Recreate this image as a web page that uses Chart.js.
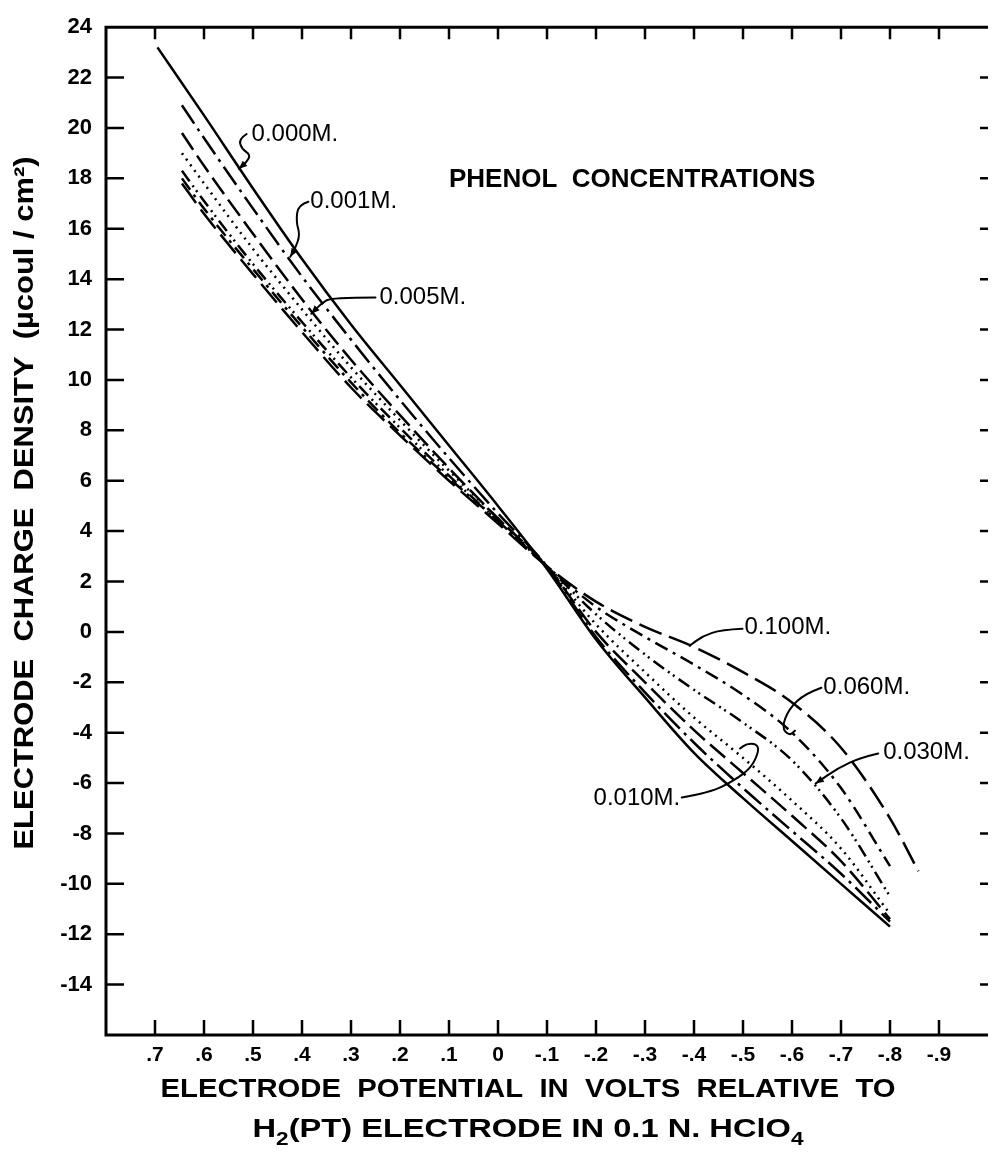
<!DOCTYPE html>
<html>
<head>
<meta charset="utf-8">
<script src="https://cdn.jsdelivr.net/npm/chart.js@4.4.1/dist/chart.umd.min.js"></script>
<style>
html, body { margin: 0; padding: 0; background: #fff; }
#graph { display: block; }
</style>
</head>
<body>
<canvas id="graph" width="996" height="1168"></canvas>
<script>
var potentials = [0.645, 0.6, 0.5, 0.4, 0.3, 0.2, 0.1, 0, -0.1, -0.2, -0.3, -0.4, -0.5, -0.6, -0.7, -0.8];
var potentials_000 = [0.695, 0.6, 0.5, 0.4, 0.3, 0.2, 0.1, 0, -0.1, -0.2, -0.3, -0.4, -0.5, -0.6, -0.7, -0.8];
var potentials_100 = [0.645, 0.6, 0.5, 0.4, 0.3, 0.2, 0.1, 0, -0.1, -0.2, -0.3, -0.4, -0.5, -0.6, -0.7, -0.8, -0.858];

// charge density (ucoul/cm2) per phenol concentration
var charge_000 = [23.2, 20.5, 17.6, 14.8, 12.2, 9.8, 7.4, 5.0, 2.5, -0.3, -2.6, -4.8, -6.6, -8.3, -10.0, -11.7];
var charge_001 = [20.9, 19.6, 16.8, 14.1, 11.6, 9.2, 6.9, 4.7, 2.6, -0.2, -2.4, -4.4, -6.2, -7.9, -9.6, -11.5];
var charge_005 = [19.8, 18.5, 15.8, 13.2, 10.8, 8.6, 6.5, 4.5, 2.6, 0.0, -2.0, -3.9, -5.6, -7.3, -9.1, -11.4];
var charge_010 = [19.0, 17.8, 15.2, 12.8, 10.5, 8.4, 6.4, 4.5, 2.6, 0.3, -1.6, -3.4, -5.0, -6.7, -8.6, -11.2];
var charge_030 = [18.3, 17.1, 14.6, 12.3, 10.1, 8.1, 6.2, 4.4, 2.6, 0.7, -0.9, -2.3, -3.6, -5.1, -7.4, -10.5];
var charge_060 = [18.0, 16.8, 14.4, 12.1, 9.9, 7.9, 6.1, 4.4, 2.6, 1.0, -0.2, -1.3, -2.5, -4.0, -6.2, -9.3];
var charge_100 = [17.8, 16.6, 14.2, 11.9, 9.7, 7.8, 6.0, 4.3, 2.6, 1.2, 0.2, -0.6, -1.6, -2.8, -4.6, -7.4, -9.5];

var concentrations = ['0.000M.', '0.001M.', '0.005M.', '0.010M.', '0.030M.', '0.060M.', '0.100M.'];

function pairs(xs, ys) {
    return xs.map(function (x, i) { return {x: x, y: ys[i]}; });
}

var series = [
    {data: pairs(potentials_000, charge_000), dash: []},
    {data: pairs(potentials, charge_001), dash: [22, 6, 3, 6]},
    {data: pairs(potentials, charge_005), dash: [20, 7]},
    {data: pairs(potentials, charge_010), dash: [2, 5]},
    {data: pairs(potentials, charge_030), dash: [13, 5, 2, 4, 2, 5]},
    {data: pairs(potentials, charge_060), dash: [14, 6, 3, 6]},
    {data: pairs(potentials_100, charge_100), dash: [24, 8]}
];

// label anchors and leader lines, in data units (potential, charge)
var label_spots = [
    {v: 0.503, q: 19.76, leader: [[0.513, 19.76], [0.529, 19.56], [0.523, 19.17], [0.505, 18.93], [0.513, 18.65], [0.529, 18.38]], arrow: true},
    {v: 0.383, q: 17.07, leader: [[0.387, 17.07], [0.408, 16.95], [0.412, 16.28], [0.404, 15.76], [0.414, 15.21], [0.424, 14.89]], arrow: true},
    {v: 0.242, q: 13.27, leader: [[0.250, 13.27], [0.341, 13.27], [0.361, 13.03], [0.381, 12.63]], arrow: true},
    {v: -0.195, q: -6.61, leader: [[-0.375, -6.57], [-0.432, -6.38], [-0.482, -5.90], [-0.517, -5.39], [-0.533, -4.71], [-0.527, -4.44], [-0.507, -4.44], [-0.494, -4.63]], arrow: false},
    {v: -0.786, q: -4.79, leader: [[-0.776, -4.83], [-0.741, -4.99], [-0.695, -5.39], [-0.648, -6.02]], arrow: true},
    {v: -0.664, q: -2.22, leader: [[-0.660, -2.22], [-0.626, -2.46], [-0.594, -3.05], [-0.579, -3.80], [-0.594, -4.12], [-0.606, -3.92]], arrow: false},
    {v: -0.503, q: 0.16, leader: [[-0.499, 0.12], [-0.456, 0.08], [-0.418, -0.16], [-0.391, -0.55]], arrow: false}
];

var FONT = '"Liberation Sans", Arial, sans-serif';

function fit_text(ctx, text, x, y, width, font, rot) {
    ctx.save();
    ctx.font = font;
    ctx.translate(x, y);
    if (rot) ctx.rotate(rot);
    var w = ctx.measureText(text).width;
    ctx.scale(width / w, 1);
    ctx.textAlign = 'center';
    ctx.textBaseline = 'middle';
    ctx.fillText(text, 0, 0);
    ctx.restore();
}

var decorations = {
    id: 'decorations',
    afterDraw: function (chart) {
        var ctx = chart.ctx;
        var a = chart.chartArea;
        var sx = chart.scales.x, sy = chart.scales.y;
        ctx.save();
        ctx.strokeStyle = '#000';
        ctx.fillStyle = '#000';

        // frame (right edge falls off the page in the original)
        ctx.lineWidth = 3;
        ctx.beginPath();
        ctx.moveTo(a.right, a.top);
        ctx.lineTo(a.left, a.top);
        ctx.lineTo(a.left, a.bottom);
        ctx.lineTo(a.right, a.bottom);
        ctx.stroke();

        // inward tick marks on all four sides
        ctx.lineWidth = 2.5;
        sx.ticks.forEach(function (t) {
            var r = Math.round(t.value * 10);
            if (r === 8 || r === -10) return;
            var px = sx.getPixelForValue(t.value);
            ctx.beginPath();
            ctx.moveTo(px, a.bottom); ctx.lineTo(px, a.bottom - 15);
            ctx.moveTo(px, a.top); ctx.lineTo(px, a.top + 12);
            ctx.stroke();
        });
        sy.ticks.forEach(function (t) {
            if (t.value === 24 || t.value === -16) return;
            var py = sy.getPixelForValue(t.value);
            ctx.beginPath();
            ctx.moveTo(a.left, py); ctx.lineTo(a.left + 18, py);
            ctx.moveTo(a.right, py); ctx.lineTo(a.right - 8, py);
            ctx.stroke();
        });

        // concentration labels and leaders
        ctx.lineWidth = 2;
        ctx.lineJoin = 'round';
        ctx.lineCap = 'round';
        ctx.font = '24px ' + FONT;
        ctx.textAlign = 'left';
        ctx.textBaseline = 'middle';
        label_spots.forEach(function (s, i) {
            ctx.fillText(concentrations[i], sx.getPixelForValue(s.v), sy.getPixelForValue(s.q));
            var pts = s.leader.map(function (p) {
                return [sx.getPixelForValue(p[0]), sy.getPixelForValue(p[1])];
            });
            ctx.beginPath();
            ctx.moveTo(pts[0][0], pts[0][1]);
            for (var k = 1; k < pts.length - 1; k++) {
                var mx = (pts[k][0] + pts[k + 1][0]) / 2, my = (pts[k][1] + pts[k + 1][1]) / 2;
                ctx.quadraticCurveTo(pts[k][0], pts[k][1], mx, my);
            }
            var last = pts[pts.length - 1];
            ctx.lineTo(last[0], last[1]);
            ctx.stroke();
            if (s.arrow) {
                var prev = pts[pts.length - 2];
                var ang = Math.atan2(last[1] - prev[1], last[0] - prev[0]);
                ctx.beginPath();
                ctx.moveTo(last[0], last[1]);
                ctx.lineTo(last[0] - 9 * Math.cos(ang - 0.4), last[1] - 9 * Math.sin(ang - 0.4));
                ctx.lineTo(last[0] - 9 * Math.cos(ang + 0.4), last[1] - 9 * Math.sin(ang + 0.4));
                ctx.closePath();
                ctx.fill();
            }
        });

        // in-plot heading
        ctx.font = 'bold 26px ' + FONT;
        ctx.fillText('PHENOL  CONCENTRATIONS', sx.getPixelForValue(0.1), sy.getPixelForValue(17.94));

        // axis titles
        fit_text(ctx, 'ELECTRODE  CHARGE  DENSITY  (\u00b5coul / cm\u00b2)', 26, 503, 693, 'bold 27px ' + FONT, -Math.PI / 2);
        fit_text(ctx, 'ELECTRODE  POTENTIAL  IN  VOLTS  RELATIVE  TO', 528, 1090, 735, 'bold 26px ' + FONT, 0);

        // second line with subscripts
        var parts = [['H', 0], ['2', 1], ['(PT) ELECTRODE IN 0.1 N. HClO', 0], ['4', 1]];
        var big = 'bold 26px ' + FONT, small = 'bold 18px ' + FONT;
        var total = 0;
        parts.forEach(function (p) { ctx.font = p[1] ? small : big; total += ctx.measureText(p[0]).width; });
        ctx.save();
        ctx.translate(528, 1130);
        ctx.scale(551 / total, 1);
        var cx = -total / 2;
        ctx.textAlign = 'left';
        parts.forEach(function (p) {
            ctx.font = p[1] ? small : big;
            ctx.fillText(p[0], cx, p[1] ? 10 : 0);
            cx += ctx.measureText(p[0]).width;
        });
        ctx.restore();

        ctx.restore();
    }
};

var chart_context = document.getElementById('graph').getContext('2d');
var chart = new Chart(chart_context, {
    type: 'line',
    data: {
        datasets: series.map(function (s, i) {
            return {
                label: concentrations[i],
                data: s.data,
                borderColor: '#000',
                borderWidth: 2.5,
                borderDash: s.dash,
                pointRadius: 0,
                fill: false,
                cubicInterpolationMode: 'monotone'
            };
        })
    },
    options: {
        responsive: false,
        animation: false,
        devicePixelRatio: 1,
        layout: {padding: {top: 25, right: 0, left: 0, bottom: 0}},
        plugins: {legend: {display: false}, tooltip: {enabled: false}},
        scales: {
            x: {
                type: 'linear',
                reverse: true,
                min: -1.0,
                max: 0.8,
                grid: {display: false, drawTicks: false},
                border: {display: false},
                ticks: {
                    stepSize: 0.1,
                    autoSkip: false,
                    maxRotation: 0,
                    padding: 8,
                    color: '#000',
                    font: {family: FONT, size: 21, weight: 'bold'},
                    callback: function (v) {
                        var r = Math.round(v * 10);
                        if (r === 8 || r === -10) return '';
                        if (r === 0) return '0';
                        return (r < 0 ? '-' : '') + '.' + Math.abs(r);
                    }
                },
                afterFit: function (s) { s.height = 133; }
            },
            y: {
                type: 'linear',
                min: -16,
                max: 24,
                grid: {display: false, drawTicks: false},
                border: {display: false},
                ticks: {
                    stepSize: 2,
                    padding: 14,
                    color: '#000',
                    font: {family: FONT, size: 22, weight: 'bold'},
                    callback: function (v) { return v === -16 ? '' : String(v); }
                },
                afterFit: function (s) { s.width = 106; }
            }
        }
    },
    plugins: [decorations]
});
</script>
</body>
</html>
